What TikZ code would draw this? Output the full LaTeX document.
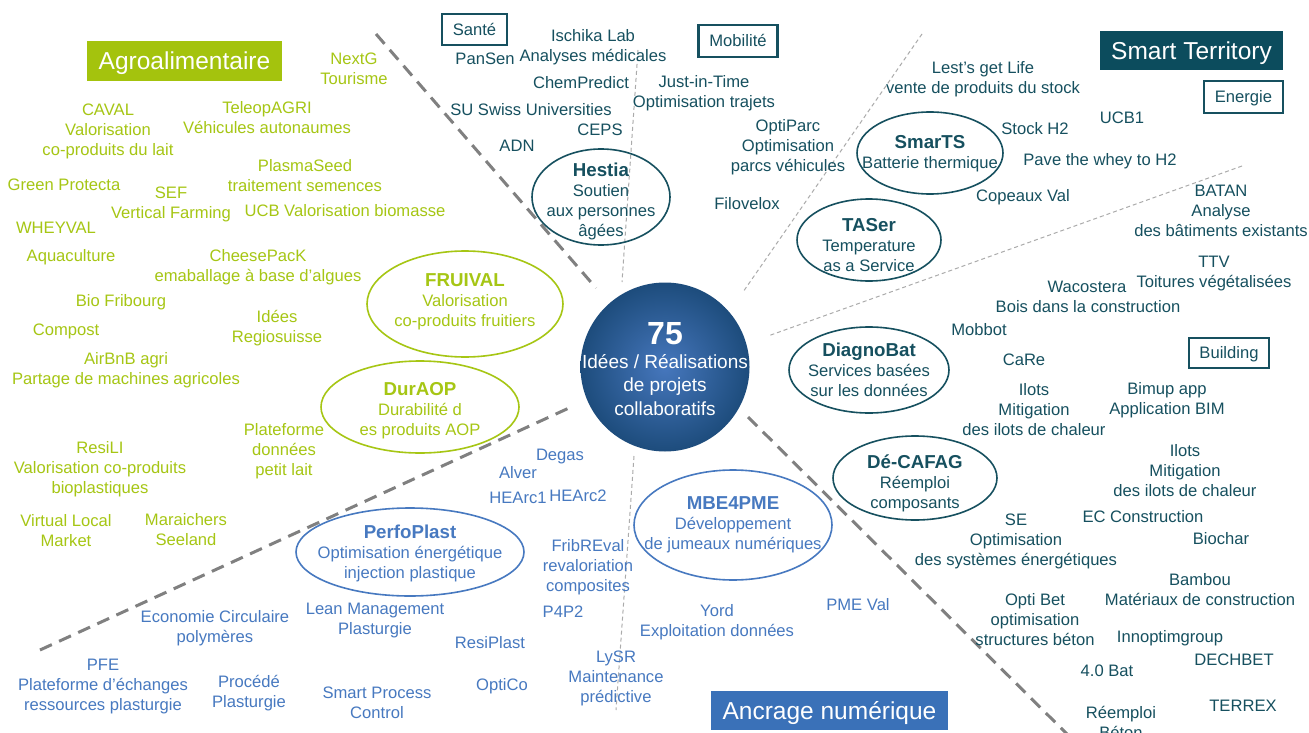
\documentclass[tikz,border=0pt]{standalone}
\usepackage{fontspec}
\setmainfont{Liberation Sans}
\usetikzlibrary{shapes.geometric}
\definecolor{agr}{HTML}{A6C614}
\definecolor{agrbox}{HTML}{A4C30D}
\definecolor{tea}{HTML}{16505F}
\definecolor{teabox}{HTML}{0C4C5D}
\definecolor{blu}{HTML}{4779C0}
\definecolor{blubox}{HTML}{3A71B8}
\definecolor{sepdark}{HTML}{808080}
\definecolor{seplight}{HTML}{ABABAB}
\definecolor{circin}{HTML}{4677BD}
\definecolor{circout}{HTML}{1D4C7C}
\newcommand\fsbody{\fontsize{16.6}{20}\selectfont}
\newcommand\fstitle{\fontsize{18.7}{21}\selectfont\bfseries}
\newcommand\fsbig{\fontsize{24.5}{28}\selectfont}
\newcommand\fscore{\fontsize{19}{23.5}\selectfont}
\begin{document}
\begin{tikzpicture}[x=1pt,y=-1pt,
 lbl/.style={font=\fsbody, align=center, inner sep=0pt, yshift=-2pt},
 gtx/.style={lbl,text=agr}, ttx/.style={lbl,text=tea}, btx/.style={lbl,text=blu},
 ell/.style={ellipse, draw, inner sep=0pt, line width=1.6pt},
 catbox/.style={rectangle, inner sep=0pt, font=\fsbig, text=white, text height=17.5pt, text depth=0pt},
 subbox/.style={rectangle, draw=tea, line width=2.6pt, inner sep=0pt, font=\fsbody, text=tea, text height=11.9pt, text depth=0pt},
 septhick/.style={draw=sepdark, line width=3pt, dash pattern=on 13pt off 8pt},
 septhin/.style={draw=seplight, line width=1pt, dash pattern=on 4pt off 3pt}]
\path[use as bounding box, fill=white] (0,0) rectangle (1309,733);

% separators
\coordinate (s1a) at (376,34);   \coordinate (s1b) at (596,288);
\coordinate (s2a) at (40,650);   \coordinate (s2b) at (569,408);
\coordinate (s3a) at (748,417);  \coordinate (s3b) at (1070,737);
\coordinate (t1a) at (638,50);   \coordinate (t1b) at (622,282);
\coordinate (t2a) at (922,34);   \coordinate (t2b) at (743,292);
\coordinate (t3a) at (1242,166); \coordinate (t3b) at (768,336);
\coordinate (t4a) at (634,456);  \coordinate (t4b) at (616,710);
\draw[septhick] (s1a) -- (s1b);
\draw[septhick] (s2a) -- (s2b);
\draw[septhick] (s3a) -- (s3b);
\draw[septhin] (t1a) -- (t1b);
\draw[septhin] (t2a) -- (t2b);
\draw[septhin] (t3a) -- (t3b);
\draw[septhin] (t4a) -- (t4b);

% category boxes
\node[catbox, fill=agrbox, minimum width=195pt, minimum height=40pt] (agro) at (184.5,61) {Agroalimentaire};
\node[catbox, fill=teabox, minimum width=183pt, minimum height=39pt] (smart) at (1191.5,50.5) {Smart Territory};
\node[catbox, fill=blubox, minimum width=237pt, minimum height=39pt] (ancrage) at (829.5,710.5) {Ancrage numérique};
\node[subbox, minimum width=65pt, minimum height=31pt] (sante) at (474.5,29.5) {Santé};
\node[subbox, minimum width=79pt, minimum height=32pt] (mobil) at (738,41) {Mobilité};
\node[subbox, minimum width=79pt, minimum height=32pt] (energie) at (1243.5,97) {Energie};
\node[subbox, minimum width=80pt, minimum height=30pt] (building) at (1229,353) {Building};

% central circle
\node[circle, minimum size=169pt, inner sep=0pt, inner color=circin, outer color=circout] (core) at (665,367) {};
\node[lbl, text=white, font=\fscore] (coretxt) at (665,367) {{\fontsize{32}{30}\selectfont\bfseries 75}\\Idées / Réalisations\\de projets\\collaboratifs};

% ellipses
\node[ell, draw=tea, minimum width=138pt, minimum height=96pt] (hestiaE) at (601,197) {};
\node[ttx] (hestia) at (601,199.5) {{\fstitle Hestia}\\Soutien\\aux personnes\\âgées};
\node[ell, draw=tea, minimum width=146pt, minimum height=82pt] (smartsE) at (930,153) {};
\node[ttx] (smarts) at (930,152) {{\fstitle SmarTS}\\Batterie thermique};
\node[ell, draw=tea, minimum width=144pt, minimum height=82pt] (taserE) at (869,240) {};
\node[ttx] (taser) at (869,243) {{\fstitle TASer}\\Temperature\\as a Service};
\node[ell, draw=tea, minimum width=160pt, minimum height=86pt] (diagE) at (869,370) {};
\node[ttx] (diag) at (869,367.5) {{\fstitle DiagnoBat}\\Services basées\\sur les données};
\node[ell, draw=tea, minimum width=164pt, minimum height=84pt] (decafE) at (915,478) {};
\node[ttx] (decaf) at (915,481) {{\fstitle Dé-CAFAG}\\Réemploi\\composants};
\node[ell, draw=blu, minimum width=198pt, minimum height=110pt] (mbeE) at (733,525) {};
\node[btx] (mbe) at (733,522.5) {{\fstitle MBE4PME}\\Développement\\de jumeaux numériques};
\node[ell, draw=blu, minimum width=228pt, minimum height=88pt] (perfoE) at (410,552) {};
\node[btx] (perfo) at (410,551.5) {{\fstitle PerfoPlast}\\Optimisation énergétique\\injection plastique};
\node[ell, draw=agr, minimum width=196pt, minimum height=106pt] (fruiE) at (465,304) {};
\node[gtx] (frui) at (465,299.5) {{\fstitle FRUIVAL}\\Valorisation\\co-produits fruitiers};
\node[ell, draw=agr, minimum width=198pt, minimum height=92pt] (durE) at (420,407) {};
\node[gtx] (dur) at (420,408.5) {{\fstitle DurAOP}\\Durabilité d\\es produits AOP};

% green texts
\node[gtx] (nextg) at (354,67) {NextG\\Tourisme};
\node[gtx] (caval) at (108,129) {CAVAL\\Valorisation\\co-produits du lait};
\node[gtx] (teleop) at (267,115.5) {TeleopAGRI\\Véhicules autonaumes};
\node[gtx] (plasma) at (305,173.5) {PlasmaSeed\\traitement semences};
\node[gtx] (greenp) at (64,183) {Green Protecta};
\node[gtx] (sef) at (171,202) {SEF\\Vertical Farming};
\node[gtx] (ucbv) at (345,209) {UCB Valorisation biomasse};
\node[gtx] (wheyval) at (56,226) {WHEYVAL};
\node[gtx] (aqua) at (71,255) {Aquaculture};
\node[gtx] (cheese) at (258,265) {CheesePacK\\emaballage à base d’algues};
\node[gtx] (biofr) at (121,300) {Bio Fribourg};
\node[gtx] (compost) at (66,329) {Compost};
\node[gtx] (idees) at (277,326) {Idées\\Regiosuisse};
\node[gtx] (airbnb) at (126,368) {AirBnB agri\\Partage de machines agricoles};
\node[gtx] (platef) at (284,449) {Plateforme\\données\\petit lait};
\node[gtx] (resili) at (100,467) {ResiLI\\Valorisation co-produits\\bioplastiques};
\node[gtx] (vlm) at (66,529) {Virtual Local\\Market};
\node[gtx] (marai) at (186,528) {Maraichers\\Seeland};

% teal texts
\node[ttx] (pansen) at (485,57) {PanSen};
\node[ttx] (ischika) at (593,45) {Ischika Lab\\Analyses médicales};
\node[ttx] (chem) at (581,81) {ChemPredict};
\node[ttx] (su) at (531,108) {SU Swiss Universities};
\node[ttx] (ceps) at (600,128) {CEPS};
\node[ttx] (adn) at (517,144) {ADN};
\node[ttx] (jit) at (704,91) {Just-in-Time\\Optimisation trajets};
\node[ttx] (optiparc) at (788,145) {OptiParc\\Optimisation\\parcs véhicules};
\node[ttx] (filovelox) at (747,202) {Filovelox};
\node[ttx] (lest) at (983,77) {Lest’s get Life\\vente de produits du stock};
\node[ttx] (stockh) at (1035,127) {Stock H2};
\node[ttx] (ucbone) at (1122,116) {UCB1};
\node[ttx] (pave) at (1100,159) {Pave the whey to H2};
\node[ttx] (copeaux) at (1023,195) {Copeaux Val};
\node[ttx] (batan) at (1221,209) {BATAN\\Analyse\\des bâtiments existants};
\node[ttx] (ttv) at (1214,272) {TTV\\Toitures végétalisées};
\node[ttx] (waco) at (1087,285) {Wacostera};
\node[ttx] (bois) at (1088,305) {Bois dans la construction};
\node[ttx] (mobbot) at (979,328) {Mobbot};
\node[ttx] (care) at (1024,358) {CaRe};
\node[ttx] (ilotsa) at (1034,408) {Ilots\\Mitigation\\des ilots de chaleur};
\node[ttx] (bimup) at (1167,398) {Bimup app\\Application BIM};
\node[ttx] (ilotsb) at (1185,469) {Ilots\\Mitigation\\des ilots de chaleur};
\node[ttx] (se) at (1016,539) {SE\\Optimisation\\des systèmes énergétiques};
\node[ttx] (ecc) at (1143,515) {EC Construction};
\node[ttx] (biochar) at (1221,537) {Biochar};
\node[ttx] (bambou) at (1200,588) {Bambou\\Matériaux de construction};
\node[ttx] (optibet) at (1035,618) {Opti Bet\\optimisation\\structures béton};
\node[ttx] (innopt) at (1170,636) {Innoptimgroup};
\node[ttx] (dechbet) at (1234,658) {DECHBET};
\node[ttx] (batq) at (1107,669) {4.0 Bat};
\node[ttx] (terrex) at (1243,704) {TERREX};
\node[ttx] (reemp) at (1121,720) {Réemploi\\Béton};

% blue texts
\node[btx] (degas) at (560,455) {Degas};
\node[btx] (alver) at (518,471) {Alver};
\node[btx] (hearca) at (518,496) {HEArc1};
\node[btx] (hearcb) at (578,494) {HEArc2};
\node[btx] (fribr) at (588,565) {FribREval\\revaloriation\\composites};
\node[btx] (pfp) at (563,610) {P4P2};
\node[btx] (yord) at (717,620) {Yord\\Exploitation données};
\node[btx] (pmeval) at (858,603) {PME Val};
\node[btx] (ecocirc) at (215,626) {Economie Circulaire\\polymères};
\node[btx] (lean) at (375,619) {Lean Management\\Plasturgie};
\node[btx] (resiplast) at (490,641) {ResiPlast};
\node[btx] (pfe) at (103,685) {PFE\\Plateforme d’échanges\\ressources plasturgie};
\node[btx] (procede) at (249,691) {Procédé\\Plasturgie};
\node[btx] (smartproc) at (377,701) {Smart Process\\Control};
\node[btx] (optico) at (502,684) {OptiCo};
\node[btx] (lysr) at (616,676) {LySR\\Maintenance\\prédictive};
\end{tikzpicture}
\end{document}
